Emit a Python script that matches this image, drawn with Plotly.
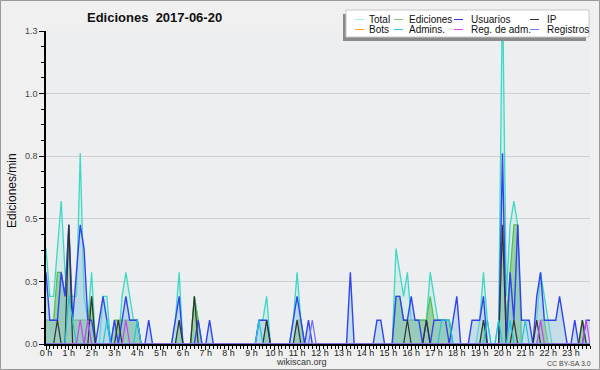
import plotly.graph_objects as go

# 10-minute bins, 00:00 .. 23:50 (x in hours)
times = [h + m / 60 for h in range(24) for m in range(0, 60, 10)]
hour_ticks = list(range(24))
hour_labels = [f"{h} h" for h in hour_ticks]
y_ticks = [0, 0.25, 0.5, 0.75, 1.0, 1.25]
y_labels = ["0.0", "0.3", "0.5", "0.8", "1.0", "1.3"]

total = [
    0.381, 0.19, 0.19, 0.381, 0.571, 0.286, 0.19, 0.19, 0.19, 0.762, 0.19, 0.095,
    0.286, 0, 0, 0.19, 0.19, 0, 0, 0, 0.19, 0.286, 0.19, 0.095,
    0.095, 0, 0, 0, 0, 0, 0, 0, 0, 0, 0.095, 0.286,
    0, 0, 0, 0.19, 0.095, 0, 0, 0, 0, 0, 0, 0,
    0, 0, 0, 0, 0, 0, 0, 0, 0.095, 0.095, 0.19, 0,
    0, 0, 0, 0, 0, 0.095, 0.286, 0.095, 0, 0, 0, 0,
    0, 0, 0, 0, 0, 0, 0, 0, 0, 0, 0, 0,
    0, 0, 0, 0, 0, 0, 0, 0, 0.381, 0.286, 0.19, 0.286,
    0.095, 0.095, 0.095, 0.095, 0.095, 0.286, 0.19, 0.095, 0.095, 0.095, 0.095, 0,
    0, 0, 0, 0, 0, 0, 0.095, 0.286, 0.095, 0, 0, 0.095,
    1.43, 0.19, 0.476, 0.571, 0.476, 0, 0, 0, 0, 0.095, 0.286, 0.19,
    0.095, 0, 0, 0, 0, 0, 0, 0, 0, 0.095, 0, 0,
]
ediciones = [
    0.095, 0.095, 0.095, 0.286, 0.286, 0.19, 0.476, 0.095, 0.095, 0.095, 0.095, 0.095,
    0.19, 0, 0, 0, 0, 0, 0.095, 0.095, 0.095, 0.095, 0.095, 0.095,
    0.095, 0, 0, 0, 0, 0, 0, 0, 0, 0, 0, 0.095,
    0, 0, 0, 0.19, 0.095, 0, 0, 0, 0, 0, 0, 0,
    0, 0, 0, 0, 0, 0, 0, 0, 0, 0, 0.095, 0,
    0, 0, 0, 0, 0, 0, 0.095, 0.095, 0, 0, 0, 0,
    0, 0, 0, 0, 0, 0, 0, 0, 0, 0, 0, 0,
    0, 0, 0, 0, 0, 0, 0, 0, 0.19, 0.19, 0.095, 0.095,
    0.095, 0.095, 0.095, 0.095, 0.095, 0.19, 0.095, 0.095, 0.095, 0.095, 0.095, 0,
    0, 0, 0, 0, 0, 0, 0, 0.095, 0, 0, 0, 0,
    0.476, 0.095, 0.286, 0.476, 0.476, 0, 0, 0, 0, 0, 0.095, 0.095,
    0, 0, 0, 0, 0, 0, 0, 0, 0, 0.095, 0, 0,
]
usuarios = [
    0.286, 0.095, 0.095, 0.095, 0.286, 0.19, 0.476, 0.095, 0.286, 0.476, 0.381, 0.095,
    0.095, 0, 0.095, 0.19, 0.095, 0, 0.095, 0, 0.095, 0.19, 0.095, 0.095,
    0.095, 0, 0, 0.095, 0, 0, 0, 0, 0, 0, 0.095, 0.19,
    0, 0, 0, 0, 0.095, 0, 0, 0.095, 0, 0, 0, 0,
    0, 0, 0, 0, 0, 0, 0, 0, 0.095, 0.095, 0.095, 0,
    0, 0, 0, 0, 0, 0.095, 0.19, 0.095, 0, 0.095, 0, 0,
    0, 0, 0, 0, 0, 0, 0, 0, 0.286, 0, 0, 0,
    0, 0, 0, 0.095, 0.095, 0, 0, 0, 0.19, 0.19, 0.095, 0.095,
    0.19, 0.095, 0.095, 0, 0.095, 0, 0.095, 0.095, 0.095, 0.095, 0, 0.095,
    0.19, 0, 0, 0, 0.095, 0.095, 0.095, 0.19, 0, 0, 0, 0,
    0.762, 0, 0.286, 0.095, 0.476, 0.095, 0.095, 0.095, 0, 0.19, 0.286, 0.095,
    0.095, 0.095, 0.095, 0.19, 0.095, 0, 0, 0.095, 0, 0, 0.095, 0.095,
]
ip = [
    0, 0, 0, 0.095, 0, 0, 0.476, 0, 0, 0, 0, 0,
    0.19, 0, 0, 0, 0, 0, 0, 0.095, 0, 0, 0, 0,
    0, 0, 0, 0, 0, 0, 0, 0, 0, 0, 0, 0.095,
    0, 0, 0, 0.19, 0, 0, 0, 0, 0, 0, 0, 0,
    0, 0, 0, 0, 0, 0, 0, 0, 0, 0, 0.095, 0,
    0, 0, 0, 0, 0, 0, 0.095, 0, 0, 0, 0, 0,
    0, 0, 0, 0, 0, 0, 0, 0, 0, 0, 0, 0,
    0, 0, 0, 0, 0, 0, 0, 0, 0, 0, 0, 0.095,
    0, 0, 0, 0, 0.095, 0, 0, 0, 0, 0, 0, 0,
    0, 0, 0, 0, 0, 0, 0, 0.095, 0, 0, 0, 0,
    0.476, 0, 0, 0.095, 0, 0, 0, 0, 0, 0.095, 0, 0,
    0, 0, 0, 0, 0, 0, 0, 0, 0, 0.095, 0, 0,
]
bots = [0] * 144
admins = [
    0, 0, 0, 0, 0, 0, 0.19, 0.095, 0, 0, 0, 0.095,
    0, 0, 0, 0, 0.095, 0, 0, 0, 0, 0, 0, 0,
    0.095, 0, 0, 0, 0, 0, 0, 0, 0, 0, 0, 0,
    0, 0, 0, 0, 0, 0, 0, 0, 0, 0, 0, 0,
    0, 0, 0, 0, 0, 0, 0, 0, 0.095, 0, 0, 0,
    0, 0, 0, 0, 0, 0, 0, 0, 0, 0, 0, 0,
    0, 0, 0, 0, 0, 0, 0, 0, 0, 0, 0, 0,
    0, 0, 0, 0, 0, 0, 0, 0, 0, 0, 0, 0,
    0, 0, 0, 0, 0, 0, 0, 0, 0.095, 0.095, 0.095, 0,
    0, 0, 0, 0, 0, 0, 0, 0, 0.095, 0, 0, 0.095,
    0, 0, 0.095, 0, 0, 0, 0.095, 0, 0, 0, 0, 0,
    0, 0, 0, 0, 0, 0, 0, 0, 0, 0, 0, 0,
]
reg_adm = [0] * 144
for i in (9, 11, 21, 130, 142):
    reg_adm[i] = 0.095
registros = [0] * 144
registros[70] = 0.095

# ---- layout geometry (pixels) ----
W, H = 600, 370
L, R, T, B = 46, 590, 31, 344


def px(x):
    return (x - L) / (R - L)


def py(y):
    return (B - y) / (B - T)


fig = go.Figure()

fig.add_trace(go.Scatter(x=times, y=total, name="Total", mode="lines",
                         line=dict(color="#3dd8c6", width=1.3),
                         fill="tozeroy", fillcolor="rgba(120,225,205,0.18)"))
fig.add_trace(go.Scatter(x=times, y=ediciones, name="Ediciones", mode="lines",
                         line=dict(color="#55bb55", width=1.2),
                         fill="tozeroy", fillcolor="rgba(90,180,90,0.5)"))
fig.add_trace(go.Scatter(x=times, y=usuarios, name="Usuarios", mode="lines",
                         line=dict(color="#3344ee", width=1.4),
                         fill="tozeroy", fillcolor="rgba(150,200,225,0.45)"))
fig.add_trace(go.Scatter(x=times, y=ip, name="IP", mode="lines",
                         line=dict(color="#333333", width=1.2)))
fig.add_trace(go.Scatter(x=times, y=bots, name="Bots", mode="lines",
                         line=dict(color="#ffa020", width=1.2)))
fig.add_trace(go.Scatter(x=times, y=admins, name="Admins.", mode="lines",
                         line=dict(color="#22c4dd", width=1.2)))
fig.add_trace(go.Scatter(x=times, y=reg_adm, name="Reg. de adm.", mode="lines",
                         line=dict(color="#cc44ee", width=1.2)))
fig.add_trace(go.Scatter(x=times, y=registros, name="Registros", mode="lines",
                         line=dict(color="#6f6fff", width=1.2)))

font = "Liberation Sans, Arial, sans-serif"

fig.update_layout(
    width=W, height=H,
    margin=dict(l=L, r=W - R, t=T, b=H - B, pad=0),
    paper_bgcolor="#f0f0f0",
    plot_bgcolor="#eceef0",
    showlegend=False,
    font=dict(family=font, size=9, color="#333"),
    xaxis=dict(range=[0, 143 / 6], tickvals=hour_ticks, ticktext=hour_labels,
               showgrid=False, zeroline=False, showline=True, linecolor="black",
               linewidth=2, ticks="outside", ticklen=4, tickcolor="black",
               tickwidth=1, tickfont=dict(size=9, color="#222"),
               ticklabelstandoff=-5,
               minor=dict(dtick=1 / 6, ticks="outside", ticklen=3,
                          tickcolor="black", showgrid=False)),
    yaxis=dict(range=[0, 1.25], tickvals=y_ticks, ticktext=y_labels,
               showgrid=True, gridcolor="#cfcfcf", gridwidth=1, zeroline=False,
               showline=True, linecolor="black", linewidth=1.5,
               ticks="outside", ticklen=5, tickcolor="black",
               tickfont=dict(size=9, color="#444"),
               minor=dict(dtick=0.0625, ticks="outside", ticklen=3,
                          tickcolor="black", showgrid=False)),
)

shapes = []
annotations = []


def text(s, x, y, size, color="#111", xanchor="center", angle=0):
    annotations.append(dict(text=s, xref="paper", yref="paper",
                            x=px(x), y=py(y), xanchor=xanchor, yanchor="middle",
                            textangle=angle, showarrow=False,
                            font=dict(size=size, color=color, family=font)))


# outer frame
shapes.append(dict(type="rect", xref="paper", yref="paper",
                   x0=px(0.5), x1=px(599.5), y0=py(0.5), y1=py(369.5),
                   line=dict(color="#9a9a9a", width=1), layer="below"))

text("<b>Ediciones  2017-06-20</b>", 154, 17, 13)
text("Ediciones/min", 12, 191, 12, angle=-90)
text("wikiscan.org", 301, 362, 9, color="#333")
text("CC BY-SA 3.0", 569, 363, 7, color="#444")

# manual legend
shapes.append(dict(type="rect", xref="paper", yref="paper",
                   x0=px(343), x1=px(586), y0=py(41), y1=py(14),
                   fillcolor="#8a8a8a", line=dict(width=0), layer="above"))
shapes.append(dict(type="rect", xref="paper", yref="paper",
                   x0=px(346), x1=px(589), y0=py(37), y1=py(10),
                   fillcolor="white", line=dict(color="#c8c8c8", width=1), layer="above"))

legend_items = [
    ("Total", "#a4ece4", 355, 367, 19.5),
    ("Ediciones", "#77cc77", 394, 407, 19.5),
    ("Usuarios", "#3333ee", 454, 469, 19.5),
    ("IP", "#333333", 530, 545, 19.5),
    ("Bots", "#ffa020", 355, 367, 29.5),
    ("Admins.", "#33ccee", 394, 407, 29.5),
    ("Reg. de adm.", "#ee44ee", 454, 469, 29.5),
    ("Registros", "#7777ff", 530, 545, 29.5),
]
for name, color, sx, tx, yy in legend_items:
    shapes.append(dict(type="line", xref="paper", yref="paper",
                       x0=px(sx), x1=px(sx + 9), y0=py(yy), y1=py(yy),
                       line=dict(color=color, width=1), layer="above"))
    text(name, tx, yy, 10, xanchor="left")

fig.update_layout(shapes=shapes, annotations=annotations)

fig.write_html("out.html")
